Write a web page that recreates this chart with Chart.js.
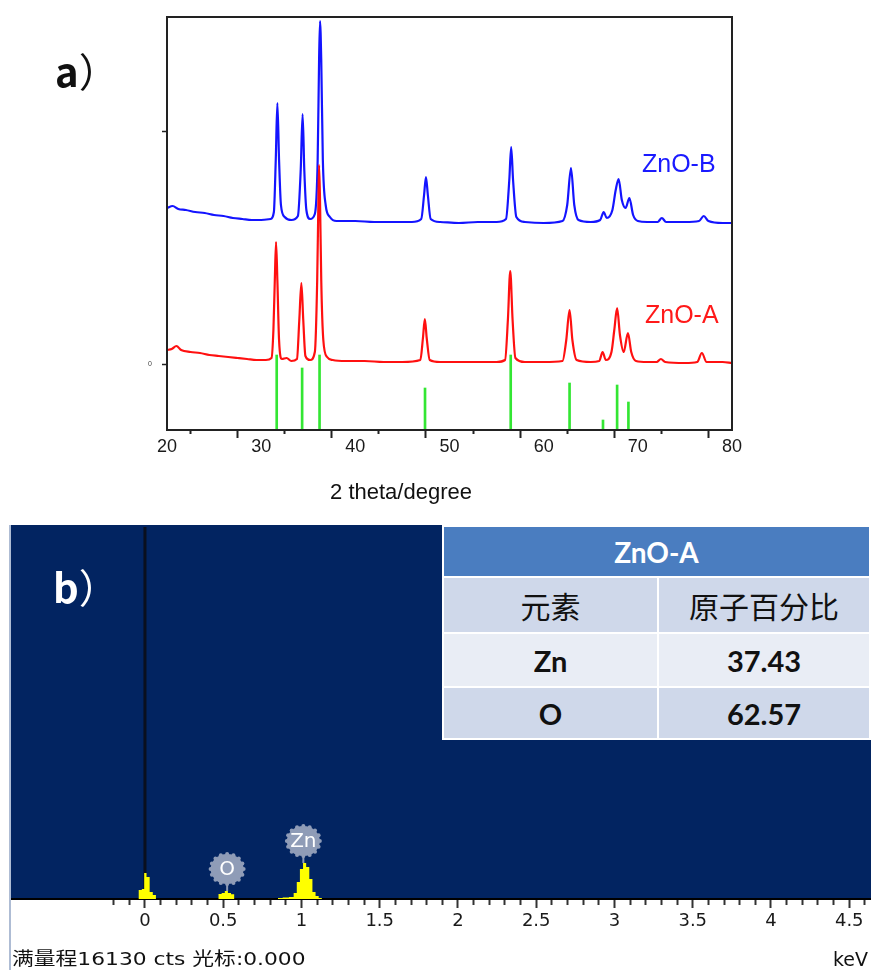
<!DOCTYPE html>
<html>
<head>
<meta charset="utf-8">
<script src="https://cdn.jsdelivr.net/npm/chart.js@4.4.0/dist/chart.umd.min.js"></script>
<style>
  html, body { margin: 0; padding: 0; background: #fff; }
  body { width: 871px; height: 970px; position: relative; overflow: hidden; font-family: "Liberation Sans", Arial, sans-serif; }
  canvas { position: absolute; left: 0; }
  #xrd { top: 0; }
  #eds { top: 520px; }
  .txt { position: absolute; white-space: nowrap; line-height: 1; }
  .panel-tag { font-family: "Noto Sans CJK SC", sans-serif; font-size: 40px; }
  .panel-tag b { font-weight: 700; }
  .panel-tag span { font-weight: 400; }
  #edge { position: absolute; left: 9px; top: 525px; width: 2px; height: 445px; background: #aebcd4; }
  #quant { position: absolute; left: 442px; top: 525px; width: 429px; border-spacing: 2px; background: #fff; font-family: Lato, "Noto Sans CJK SC", sans-serif; }
  #quant td { text-align: center; padding: 0; color: #111; }
  #quant .head { background: #4a7dc0; color: #fff; font-weight: 700; font-size: 28px; height: 49px; }
  #quant .cols td { background: #cfd8ea; font-family: "Noto Sans CJK SC", sans-serif; font-size: 30px; height: 54px; }
  #quant .row td { font-weight: 700; font-size: 29px; }
</style>
</head>
<body>
<canvas id="xrd" width="871" height="520"></canvas>
<canvas id="eds" width="871" height="450"></canvas>
<div id="edge"></div>
<table id="quant"></table>

<div class="txt panel-tag" style="left:55px; top:50px; color:#111"><b>a</b><span>）</span></div>
<div class="txt panel-tag" style="left:53px; top:566px; color:#fff"><b>b</b><span>）</span></div>
<div class="txt" id="nameB" style="left:642px; top:151px; font-size:25px; color:#1a1aff"></div>
<div class="txt" id="nameA" style="left:645px; top:302px; font-size:25px; color:#ff1a1a"></div>
<div class="txt" id="xrdTitle" style="left:401px; top:481px; font-size:22px; color:#111; transform:translateX(-50%)"></div>
<div class="txt" id="edsInfo" style="left:12px; top:950px; font-family:'DejaVu Sans','Noto Sans CJK SC',sans-serif; font-size:18px; color:#111; transform:scaleX(1.21); transform-origin:left top"></div>
<div class="txt" id="edsUnit" style="right:3px; top:950px; font-family:'DejaVu Sans',sans-serif; font-size:19px; color:#111"></div>

<script>
// panel a: XRD patterns, intensity in arbitrary units
const seriesNames = ["ZnO-B", "ZnO-A"]
const thetaB = [20, 20.6, 21.2, 22, 23, 24, 25, 26, 27, 28, 29, 30, 31, 31.35, 31.55, 31.72, 31.9, 32.1, 32.5, 33.2,
  33.9, 34.2, 34.4, 34.58, 34.8, 35.2, 35.7, 36, 36.15, 36.25, 36.38, 36.55, 36.85, 37.3, 38, 40, 42, 44, 46,
  47, 47.3, 47.5, 47.7, 48, 49, 51, 53, 55, 56, 56.35, 56.55, 56.75, 57.1, 58, 60, 62, 62.5, 62.9, 63.25, 63.7,
  65, 66, 66.37, 66.7, 67.3, 67.65, 67.96, 68.3, 68.7, 69.1, 69.5, 70, 71, 72.1, 72.55, 73, 75, 76.5, 77, 77.5, 79, 80]
const intensityB = [1560, 1580, 1550, 1540, 1520, 1510, 1490, 1480, 1460, 1450, 1440, 1440, 1450, 1520, 2040, 2610, 2040, 1590, 1470, 1440,
  1480, 1940, 2500, 1940, 1540, 1450, 1500, 2040, 3040, 3430, 3040, 2040, 1590, 1470, 1430, 1430, 1420, 1420, 1420,
  1450, 1690, 1870, 1690, 1450, 1420, 1410, 1420, 1420, 1450, 1840, 2170, 1840, 1470, 1420, 1410, 1430, 1590, 1960, 1590, 1440,
  1420, 1440, 1520, 1460, 1540, 1740, 1850, 1640, 1560, 1660, 1490, 1430, 1420, 1420, 1460, 1420, 1420, 1430, 1480, 1430, 1410, 1410]
const thetaA = [20, 20.5, 21, 21.5, 22.5, 23.5, 24.5, 25.5, 26.5, 27.5, 28.5, 29.5, 30.5, 31.1, 31.3, 31.45, 31.58, 31.72, 31.9, 32.2,
  32.7, 33.2, 33.8, 34.05, 34.27, 34.47, 34.7, 35.2, 35.7, 35.95, 36.08, 36.15, 36.25, 36.38, 36.6, 37, 37.6, 39, 41, 43, 45,
  46.9, 47.18, 47.38, 47.58, 47.9, 49, 51, 53, 55, 55.9, 56.2, 56.45, 56.7, 57, 58, 60, 62, 62.4, 62.75, 63.05, 63.5,
  65, 65.9, 66.26, 66.6, 67.2, 67.5, 67.8, 68.1, 68.5, 68.95, 69.3, 69.8, 71, 72, 72.45, 72.9, 75, 76.3, 76.8, 77.3, 79, 80]
const intensityA = [140, 150, 180, 140, 120, 110, 90, 80, 70, 60, 50, 40, 40, 60, 340, 840, 1220, 840, 240, 50,
  60, 30, 50, 440, 810, 440, 80, 40, 120, 840, 1640, 1990, 1640, 840, 240, 70, 40, 30, 30, 20, 20,
  40, 260, 450, 260, 40, 20, 20, 20, 20, 40, 440, 930, 440, 60, 20, 20, 30, 240, 540, 240, 40,
  20, 30, 120, 40, 120, 340, 560, 290, 120, 310, 120, 30, 20, 20, 50, 20, 10, 20, 110, 20, 20, 10]
// reference pattern sticks (tops; they start at the bottom of the axis)
const refTheta = [31.65, 34.35, 36.2, 47.4, 56.5, 62.75, 66.3, 67.8, 69.0]
const refIntensity = [90, -40, 90, -240, 90, -190, -560, -210, -380]
const thetaRange = [20, 80]
const intensityRange = [-660, 3470]
const intensityTicks = [0, 2330]
const xrdTitle = "2 theta/degree"

// panel b: EDS spectrum of ZnO-A
const fullScaleCts = 16130
const cursorKeV = 0
const keVRange = [-0.856, 4.639]
const edsKeV = [-0.05, -0.03, -0.01, 0, 0.02, 0.04, 0.06, 0.08,
  0.46, 0.48, 0.5, 0.52, 0.54, 0.56, 0.58,
  0.84, 0.86, 0.9, 0.94, 0.96, 0.98, 1, 1.02, 1.04, 1.06, 1.08, 1.1, 1.12, 1.14]
const edsCounts = [0, 390, 430, 1120, 950, 300, 170, 0,
  0, 215, 260, 340, 260, 200, 0,
  0, 40, 60, 90, 260, 730, 1290, 1550, 1380, 860, 300, 130, 40, 0]
const lineNames = ["O", "Zn"]
const lineKeV = [0.525, 1.012]

// quantification table
const tableTitle = "ZnO-A"
const tableHead = ["元素", "原子百分比"]
const elements = ["Zn", "O"]
const atomicPct = [37.43, 62.57]

const toPoints = (xs, ys) => xs.map((x, i) => ({ x: x, y: ys[i] }))

Chart.defaults.font.family = "'Liberation Sans', Arial, sans-serif"
Chart.defaults.color = "#1a1a1a"
Chart.defaults.animation = false

// frame round the XRD plot
const framePlugin = {
  id: "frame",
  afterDatasetsDraw(chart) {
    const { ctx, chartArea: a } = chart
    ctx.save()
    ctx.strokeStyle = "#222"
    ctx.lineWidth = 2
    ctx.strokeRect(a.left, a.top, a.right - a.left, a.bottom - a.top)
    ctx.restore()
  },
}

new Chart(document.getElementById("xrd"), {
  type: "line",
  data: {
    datasets: [
      {
        label: seriesNames[1],
        data: toPoints(thetaA, intensityA),
        borderColor: "#ff1010",
        borderWidth: 2.2,
        pointRadius: 0,
        cubicInterpolationMode: "monotone",
        order: 1,
      },
      {
        type: "bar",
        label: "PDF",
        data: toPoints(refTheta, refIntensity),
        backgroundColor: "#33e633",
        barThickness: 2,
        base: intensityRange[0],
        order: 2,
      },
      {
        label: seriesNames[0],
        data: toPoints(thetaB, intensityB),
        borderColor: "#1414ff",
        borderWidth: 2.2,
        pointRadius: 0,
        cubicInterpolationMode: "monotone",
        order: 3,
      },
    ],
  },
  options: {
    responsive: false,
    layout: { padding: { left: 0, right: 139, top: 17, bottom: 0 } },
    plugins: { legend: { display: false }, tooltip: { enabled: false } },
    scales: {
      x: {
        type: "linear",
        min: thetaRange[0],
        max: thetaRange[1],
        offset: false,
        afterFit: (s) => { s.height = 90 },
        border: { display: false },
        grid: {
          drawOnChartArea: false,
          tickLength: 8,
          tickWidth: 2,
          tickColor: "#222",
          tickBorderDash: (c) => (c.tick && c.tick.value % 10 !== 0 ? [4, 20] : []),
        },
        ticks: {
          stepSize: 5,
          autoSkip: false,
          maxRotation: 0,
          padding: -2,
          font: { size: 18 },
          callback: (v) => (v % 10 === 0 ? v : ""),
        },
      },
      y: {
        min: intensityRange[0],
        max: intensityRange[1],
        afterFit: (s) => { s.width = 167 },
        afterBuildTicks: (s) => { s.ticks = intensityTicks.map((v) => ({ value: v })) },
        border: { display: false },
        grid: { drawOnChartArea: false, tickLength: 5, tickWidth: 1.5, tickColor: "#222" },
        ticks: {
          padding: 10,
          color: "#444",
          font: { size: 7 },
          callback: (v) => (v === 0 ? "0" : ""),
        },
      },
    },
  },
  plugins: [framePlugin],
})

// navy backdrop, cursor line and element badges for the EDS panel
const edsPlugin = {
  id: "edsDecor",
  beforeDraw(chart) {
    const { ctx, chartArea: a } = chart
    ctx.save()
    ctx.fillStyle = "#022461"
    ctx.fillRect(a.left, a.top, a.right - a.left, a.bottom - a.top)
    ctx.restore()
  },
  beforeDatasetsDraw(chart) {
    const { ctx, chartArea: a, scales } = chart
    const x0 = scales.x.getPixelForValue(cursorKeV)
    ctx.save()
    ctx.strokeStyle = "#0a0f1e"
    ctx.lineWidth = 3
    ctx.beginPath()
    ctx.moveTo(x0, a.top + 2)
    ctx.lineTo(x0, a.bottom)
    ctx.stroke()
    ctx.restore()
  },
  afterDatasetsDraw(chart) {
    const { ctx, scales } = chart
    lineNames.forEach((name, i) => {
      let peak = 0
      edsKeV.forEach((k, j) => {
        if (Math.abs(k - lineKeV[i]) < 0.08) peak = Math.max(peak, edsCounts[j])
      })
      const cx = scales.x.getPixelForValue(lineKeV[i])
      const top = scales.y.getPixelForValue(peak)
      const cy = top - 22
      const rx = 16.5, ry = 15
      ctx.save()
      ctx.fillStyle = "#8f9cb7"
      ctx.strokeStyle = "#8f9cb7"
      ctx.lineWidth = 2
      ctx.beginPath()
      ctx.moveTo(cx, cy + ry)
      ctx.lineTo(cx, top)
      ctx.stroke()
      ctx.beginPath()
      ctx.ellipse(cx, cy, rx, ry, 0, 0, Math.PI * 2)
      ctx.fill()
      for (let t = 0; t < 16; t++) {
        const ang = (t / 16) * Math.PI * 2
        ctx.beginPath()
        ctx.arc(cx + Math.cos(ang) * rx, cy + Math.sin(ang) * ry, 2, 0, Math.PI * 2)
        ctx.fill()
      }
      ctx.fillStyle = "#fff"
      ctx.font = "20px 'DejaVu Sans', sans-serif"
      ctx.textAlign = "center"
      ctx.textBaseline = "middle"
      ctx.fillText(name, cx, cy + 1)
      ctx.restore()
    })
  },
}

new Chart(document.getElementById("eds"), {
  type: "line",
  data: {
    datasets: [
      {
        data: toPoints(edsKeV, edsCounts),
        stepped: "middle",
        fill: "origin",
        backgroundColor: "#ffff00",
        borderWidth: 0,
        pointRadius: 0,
      },
    ],
  },
  options: {
    responsive: false,
    layout: { padding: { left: 11, right: 0, top: 5, bottom: 0 } },
    plugins: { legend: { display: false }, tooltip: { enabled: false } },
    scales: {
      x: {
        type: "linear",
        min: keVRange[0],
        max: keVRange[1],
        afterFit: (s) => { s.height = 71 },
        border: { display: true, color: "#000", width: 2 },
        grid: {
          drawOnChartArea: false,
          tickLength: 9,
          tickWidth: 2,
          tickColor: (c) => (c.tick && c.tick.value < -0.25 ? "rgba(0,0,0,0)" : "#333"),
          tickBorderDash: (c) => {
            const v = c.tick ? c.tick.value : 0
            return Math.abs(v * 2 - Math.round(v * 2)) > 1e-6 ? [5, 20] : []
          },
        },
        ticks: {
          stepSize: 0.1,
          includeBounds: false,
          autoSkip: false,
          maxRotation: 0,
          padding: 3,
          color: "#1a1a1a",
          font: { family: "'DejaVu Sans', sans-serif", size: 18 },
          callback: (v) => {
            const r = Math.round(v * 10) / 10
            return v > -1e-6 && Math.abs(r * 2 - Math.round(r * 2)) < 1e-6 ? String(r) : ""
          },
        },
      },
      y: { display: false, min: 0, max: fullScaleCts },
    },
  },
  plugins: [edsPlugin],
})

// texts
document.getElementById("nameB").textContent = seriesNames[0]
document.getElementById("nameA").textContent = seriesNames[1]
document.getElementById("xrdTitle").textContent = xrdTitle
document.getElementById("edsInfo").textContent = "满量程" + fullScaleCts + " cts 光标:" + cursorKeV.toFixed(3)
document.getElementById("edsUnit").textContent = "keV"

// table of atomic percentages
const table = document.getElementById("quant")
let html = '<tr><td class="head" colspan="2">' + tableTitle + "</td></tr>"
html += '<tr class="cols"><td>' + tableHead[0] + "</td><td>" + tableHead[1] + "</td></tr>"
const rowColors = ["#e9edf5", "#cfd8ea"]
const rowHeights = [52, 50]
elements.forEach((el, i) => {
  html += '<tr class="row"><td style="background:' + rowColors[i] + ";height:" + rowHeights[i] + 'px;width:213px">' + el +
    '</td><td style="background:' + rowColors[i] + '">' + atomicPct[i].toFixed(2) + "</td></tr>"
})
table.innerHTML = html
</script>
</body>
</html>
